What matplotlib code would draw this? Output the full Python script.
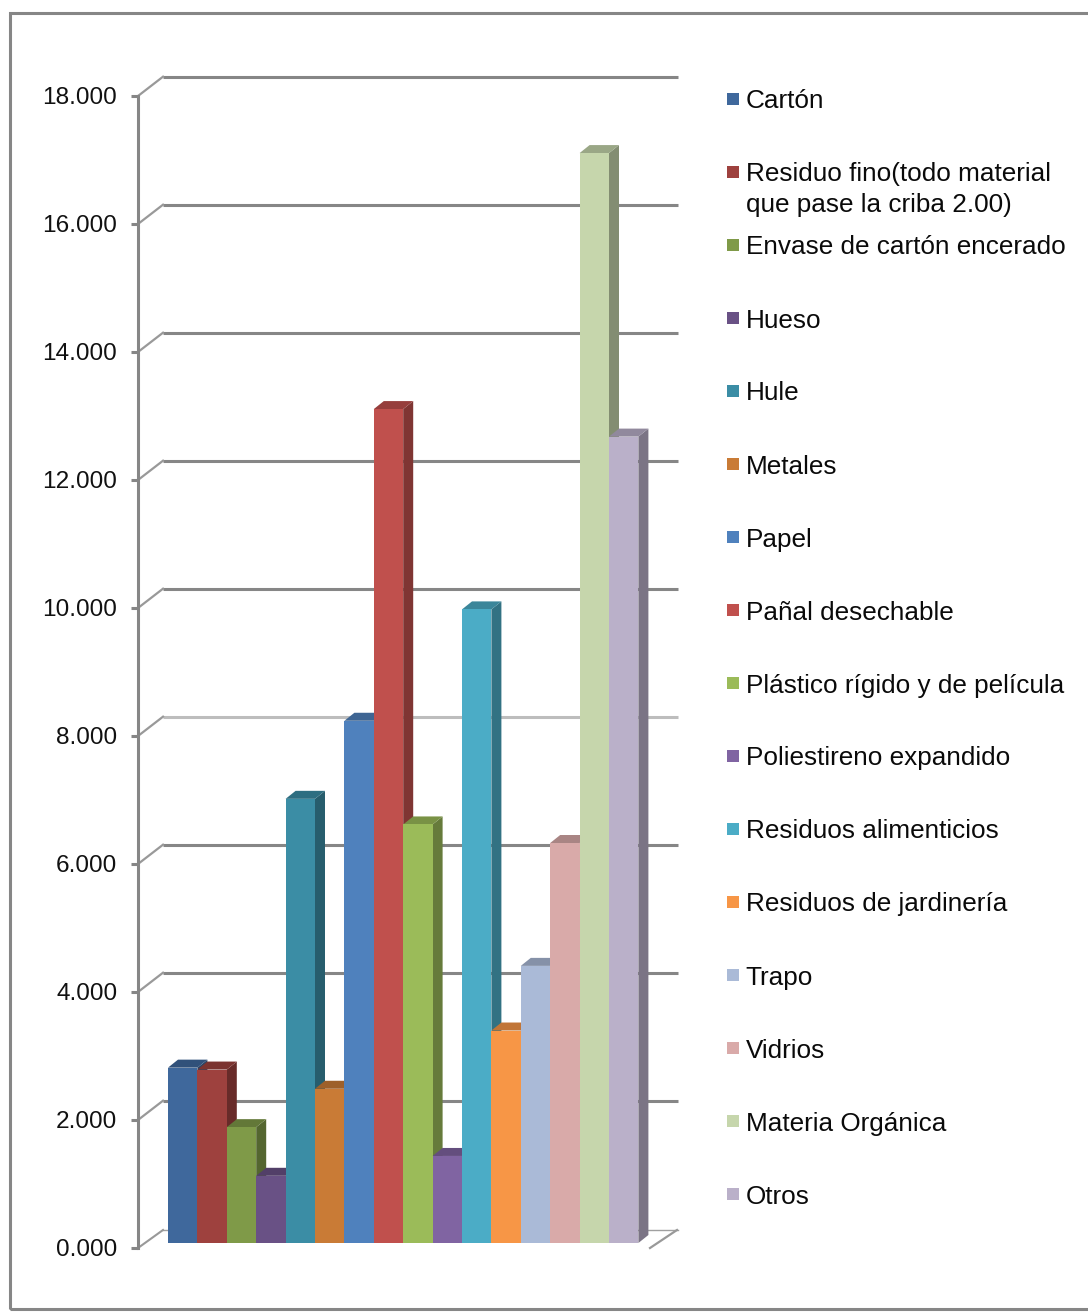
import matplotlib
matplotlib.use('Agg')
from matplotlib import pyplot as plt
from matplotlib.colors import to_rgb
from matplotlib.patches import Rectangle

plt.rcParams['font.family'] = ['Liberation Sans', 'DejaVu Sans']

categories = ['Cartón', 'Residuo fino(todo material\nque pase la criba 2.00)',
              'Envase de cartón encerado', 'Hueso', 'Hule', 'Metales', 'Papel',
              'Pañal desechable', 'Plástico rígido y de película',
              'Poliestireno expandido', 'Residuos alimenticios',
              'Residuos de jardinería', 'Trapo', 'Vidrios', 'Materia Orgánica', 'Otros']
values = [2.74, 2.71, 1.81, 1.05, 6.94, 2.41, 8.16, 13.03,
          6.54, 1.36, 9.90, 3.32, 4.33, 6.25, 17.03, 12.60]
colors = ['#3F689C', '#9E413E', '#7F9A48', '#695185', '#3B8DA5', '#C97B36', '#4F81BD', '#C0504D',
          '#9BBB59', '#8064A2', '#4BACC6', '#F79646', '#AABAD7', '#D9AAA9', '#C6D6AC', '#BAB0C9']
y_ticks = [0, 2, 4, 6, 8, 10, 12, 14, 16, 18]

W, H = 1088, 1316
GREY = '#868686'
PX_Y = 1 / 64.0   # value units per pixel
PX_X = 1 / 29.4   # category units per pixel


def darker(color, k):
    return tuple(c * k for c in to_rgb(color))


fig = plt.figure(figsize=(W / 100, H / 100), dpi=100, facecolor='white')
ax = fig.add_axes([138 / W, 1 - 1248 / H, 540 / W, 1172 / H])
ax.patch.set_alpha(0)
ax.set_xlim(-0.5 - 30 * PX_X, -0.5 + 510 * PX_X)
ax.set_ylim(0, 1172 * PX_Y)

# outer frame, runs off the right edge
fig.add_artist(Rectangle((9.5 / W, 1 - 1308.5 / H), 1200 / W, 1295.5 / H, fill=False,
                         ec=GREY, lw=2.2, transform=fig.transFigure))

# back wall grid lines and the little diagonals to the axis
wall_x = ax.get_xlim()[0] + 25 * PX_X
right_x = ax.get_xlim()[1]
left_x = ax.get_xlim()[0]
for v in y_ticks:
    if v == 0:
        ax.plot([wall_x, right_x], [v + 18 * PX_Y] * 2, color='#A0A0A0', lw=1, zorder=1, clip_on=False)
        ax.plot([left_x, wall_x], [v, v + 18 * PX_Y], color='#999999', lw=1.5, zorder=1, clip_on=False)
        continue
    line_color = '#BDBDBD' if v == 8 else GREY
    ax.plot([wall_x, right_x], [v + 19.3 * PX_Y] * 2, color=line_color, lw=2.2, zorder=1,
            clip_on=False, solid_capstyle='butt')
    ax.plot([left_x, wall_x], [v, v + 19.3 * PX_Y], color='#999999', lw=1.6, zorder=1, clip_on=False)

# diagonal at the front right corner of the floor
ax.plot([right_x - 28 * PX_X, right_x - 1 * PX_X], [0, 18 * PX_Y], color='#999999', lw=1.6,
        zorder=1, clip_on=False)

# 3D look: side and top faces first, each next bar covers the side of the last
floor = 5 * PX_Y
dx, dy = 10 * PX_X, 8 * PX_Y
for i, (v, c) in enumerate(zip(values, colors)):
    x0, x1 = i - 0.5, i + 0.5
    z = 2 + i * 0.01
    ax.fill([x1, x1 + dx, x1 + dx, x1], [floor, floor + dy, v + floor + dy, v + floor],
            color=darker(c, 0.66), lw=0, zorder=z, clip_on=False)
    ax.fill([x0, x0 + dx, x1 + dx, x1], [v + floor, v + floor + dy, v + floor + dy, v + floor],
            color=darker(c, 0.78), lw=0, zorder=z, clip_on=False)
    ax.bar(i, v, width=1.0, bottom=floor, color=c, lw=0, zorder=z + 0.005, clip_on=False)

for s in ['top', 'right', 'bottom']:
    ax.spines[s].set_visible(False)
ax.spines['left'].set_color(GREY)
ax.spines['left'].set_linewidth(2.2)
ax.spines['left'].set_bounds(0, 18)
ax.set_xticks([])
ax.set_yticks(y_ticks)
ax.set_yticklabels(['%.3f' % t for t in y_ticks], fontsize=17.6, color='#111111')
ax.tick_params(axis='y', length=5, width=2.2, color=GREY, pad=10)

# legend drawn by hand, the spacing of the original is very regular
for i, (name, c) in enumerate(zip(categories, colors)):
    yc = 100 + 73 * i
    fig.add_artist(Rectangle((727 / W, 1 - (yc + 5) / H), 12 / W, 12 / H, color=c, lw=0,
                             transform=fig.transFigure))
    fig.text(745.5 / W, 1 - (yc - 10.5) / H, name, fontsize=18.8, color='#0A0A0A', va='top', ha='left',
             linespacing=1.33)

fig.savefig('out.png', dpi=100)
